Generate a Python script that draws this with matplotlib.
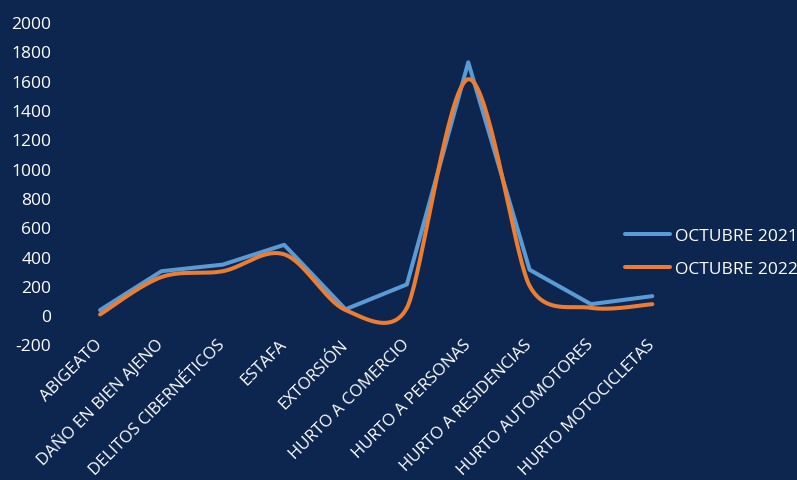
import numpy as np
import matplotlib
matplotlib.use("Agg")
import matplotlib.pyplot as plt

categories = ["ABIGEATO", "DAÑO EN BIEN AJENO", "DELITOS CIBERNÉTICOS", "ESTAFA",
              "EXTORSIÓN", "HURTO A COMERCIO", "HURTO A PERSONAS",
              "HURTO A RESIDENCIAS", "HURTO AUTOMOTORES", "HURTO MOTOCICLETAS"]
oct_2021 = [35, 300, 345, 480, 40, 210, 1725, 310, 75, 130]
oct_2022 = [5, 260, 300, 415, 35, 50, 1610, 200, 50, 75]
series_names = ["OCTUBRE 2021", "OCTUBRE 2022"]
y_ticks = list(range(-200, 2001, 200))

BG = "#0C2650"
BLUE = "#5B9BD5"
ORANGE = "#ED7D31"
TXT = "#FFFFFF"

plt.rcParams['font.family'] = ['Open Sans', 'DejaVu Sans']

fig = plt.figure(figsize=(7.97, 4.81), dpi=100, facecolor=BG)
ax = fig.add_axes([69.4 / 797, 1 - 345.5 / 481, (683 - 69.4) / 797, (345.5 - 23) / 481])
ax.set_facecolor(BG)

x = np.arange(len(categories))
ax.set_xlim(-0.5, len(categories) - 0.5)
ax.set_ylim(-200, 2000)


def excel_smooth(ax, xs, ys, n=40):
    P = ax.transData.transform(np.column_stack([xs, ys]).astype(float))
    m = len(P)
    tang = []
    for i in range(m):
        a = P[max(i - 1, 0)]
        b = P[min(i + 1, m - 1)]
        t = (b - a) / 6.0
        segs = []
        if i > 0:
            segs.append(np.linalg.norm(P[i] - P[i - 1]))
        if i < m - 1:
            segs.append(np.linalg.norm(P[i + 1] - P[i]))
        cap = 0.5 * min(segs)
        L = np.linalg.norm(t)
        if L > cap and L > 0:
            t = t * cap / L
        tang.append(t)
    pts = []
    ts = np.linspace(0, 1, n)
    for i in range(m - 1):
        p0 = P[i]
        p1 = P[i] + tang[i]
        p2 = P[i + 1] - tang[i + 1]
        p3 = P[i + 1]
        for tt in (ts if i == 0 else ts[1:]):
            u = 1 - tt
            pts.append(u**3 * p0 + 3 * u**2 * tt * p1 + 3 * u * tt**2 * p2 + tt**3 * p3)
    pts = np.array(pts)
    d = ax.transData.inverted().transform(pts)
    return d[:, 0], d[:, 1]


ax.plot(x, oct_2021, color=BLUE, lw=2.9, solid_joinstyle='round',
        solid_capstyle='round', label=series_names[0])
sx, sy = excel_smooth(ax, x, oct_2022)
ax.plot(sx, sy, color=ORANGE, lw=2.9, solid_joinstyle='round',
        solid_capstyle='round', label=series_names[1])

for s in ax.spines.values():
    s.set_visible(False)

ax.set_yticks(y_ticks)
ax.set_yticklabels([str(v) for v in y_ticks])
ax.set_xticks(x)
ax.set_xticklabels(categories, rotation=45, ha='right', va='center',
                   rotation_mode='anchor')
ax.tick_params(axis='y', length=0, pad=13, labelsize=12.5, labelcolor=TXT)
ax.tick_params(axis='x', length=0, pad=-2, labelsize=12.1, labelcolor=TXT)

leg = ax.legend(loc='center left', bbox_to_anchor=(625 / 797, 1 - 253.5 / 481),
                bbox_transform=fig.transFigure, frameon=False, fontsize=12.5,
                handlelength=2.6, handletextpad=0.3, labelspacing=0.95,
                borderpad=0, borderaxespad=0)
for t in leg.get_texts():
    t.set_color(TXT)

fig.savefig("out.png", dpi=100, facecolor=BG)
